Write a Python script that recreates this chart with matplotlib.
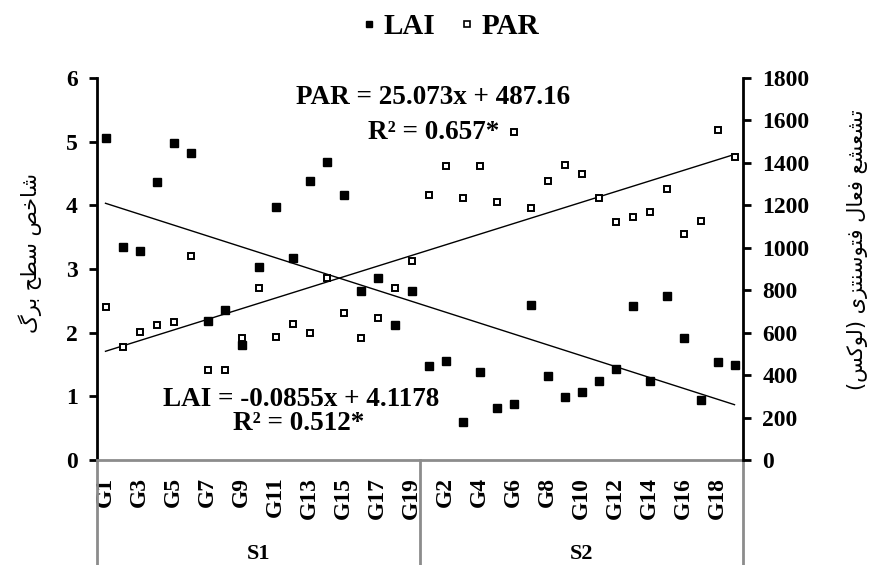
import matplotlib
matplotlib.use("Agg")
import matplotlib.pyplot as plt
import matplotlib.transforms as mtransforms
from matplotlib.lines import Line2D

# داده ها
groups = ["S1", "S2"]
genotypes = ["G%d" % i for i in range(1, 20)]
lai_s1 = [5.06, 3.35, 3.29, 4.36, 4.98, 4.82, 2.18, 2.36, 1.80, 3.03,
          3.97, 3.18, 4.38, 4.68, 4.16, 2.66, 2.86, 2.12, 2.66]
lai_s2 = [1.48, 1.55, 0.59, 1.38, 0.81, 0.88, 2.44, 1.32, 0.99, 1.07,
          1.24, 1.43, 2.42, 1.24, 2.57, 1.92, 0.95, 1.54, 1.50]
par_s1 = [721, 534, 605, 636, 649, 963, 424, 424, 576, 812,
          581, 642, 600, 859, 691, 576, 668, 812, 939]
par_s2 = [1247, 1385, 1235, 1385, 1216, 1544, 1187, 1313, 1392, 1349,
          1235, 1120, 1145, 1167, 1277, 1065, 1126, 1555, 1428]
lai_coef = [-0.0855, 4.1178]
par_coef = [25.073, 487.16]
lai_title = "شاخص سطح برگ"
par_title = "تشعشع فعال فتوسنتزی (لوکس)"

# شکل دادن حروف فارسی (matplotlib خودش حروف را به هم نمی چسباند)
forms = {
    "ا": ("\uFE8D", "\uFE8E", None, None),
    "ب": ("\uFE8F", "\uFE90", "\uFE91", "\uFE92"),
    "ت": ("\uFE95", "\uFE96", "\uFE97", "\uFE98"),
    "ح": ("\uFEA1", "\uFEA2", "\uFEA3", "\uFEA4"),
    "خ": ("\uFEA5", "\uFEA6", "\uFEA7", "\uFEA8"),
    "ر": ("\uFEAD", "\uFEAE", None, None),
    "ز": ("\uFEAF", "\uFEB0", None, None),
    "س": ("\uFEB1", "\uFEB2", "\uFEB3", "\uFEB4"),
    "ش": ("\uFEB5", "\uFEB6", "\uFEB7", "\uFEB8"),
    "ص": ("\uFEB9", "\uFEBA", "\uFEBB", "\uFEBC"),
    "ط": ("\uFEC1", "\uFEC2", "\uFEC3", "\uFEC4"),
    "ع": ("\uFEC9", "\uFECA", "\uFECB", "\uFECC"),
    "ف": ("\uFED1", "\uFED2", "\uFED3", "\uFED4"),
    "ل": ("\uFEDD", "\uFEDE", "\uFEDF", "\uFEE0"),
    "ن": ("\uFEE5", "\uFEE6", "\uFEE7", "\uFEE8"),
    "و": ("\uFEED", "\uFEEE", None, None),
    "ی": ("\uFBFC", "\uFBFD", "\uFBFE", "\uFBFF"),
    "ک": ("\uFB8E", "\uFB8F", "\uFB90", "\uFB91"),
    "گ": ("\uFB92", "\uFB93", "\uFB94", "\uFB95"),
}


def farsi(texto):
    salida = []
    for i, c in enumerate(texto):
        if c not in forms:
            salida.append(c)
            continue
        prev = texto[i - 1] if i > 0 else ""
        nxt = texto[i + 1] if i + 1 < len(texto) else ""
        join_prev = prev in forms and forms[prev][2] is not None
        join_next = forms[c][2] is not None and nxt in forms
        f = forms[c]
        if join_prev and join_next:
            salida.append(f[3])
        elif join_prev:
            salida.append(f[1])
        elif join_next:
            salida.append(f[2])
        else:
            salida.append(f[0])
    visual = "".join(reversed(salida))
    return visual.translate(str.maketrans("()", ")("))


labels = genotypes + genotypes
lai = lai_s1 + lai_s2
par = par_s1 + par_s2
n = len(labels)
pos = list(range(n))
xfit = [p + 1 for p in pos]

serif = "Liberation Serif"
gris = "#8c8c8c"

fig = plt.figure(figsize=(8.74, 5.65), dpi=100)
ax = fig.add_axes([97 / 874, 1 - 460 / 565, 646 / 874, 382 / 565])
ax2 = ax.twinx()

ax.plot(pos, lai, "s", color="black", markersize=6, linestyle="none", zorder=3)
ax2.plot(pos, par, "s", markerfacecolor="white", markeredgecolor="black",
         markeredgewidth=1.4, markersize=5, linestyle="none", zorder=3)
ax.plot([pos[0], pos[-1]],
        [lai_coef[0] * xfit[0] + lai_coef[1], lai_coef[0] * xfit[-1] + lai_coef[1]],
        color="black", linewidth=1)
ax2.plot([pos[0], pos[-1]],
         [par_coef[0] * xfit[0] + par_coef[1], par_coef[0] * xfit[-1] + par_coef[1]],
         color="black", linewidth=1)

ax.set_xlim(-0.5, n - 0.5)
ax.set_ylim(0, 6)
ax2.set_ylim(0, 1800)
ax.set_yticks(range(0, 7))
ax2.set_yticks(range(0, 1801, 200))

for a in (ax, ax2):
    a.spines["top"].set_visible(False)
ax.spines["right"].set_visible(False)
ax2.spines["left"].set_visible(False)
ax2.spines["bottom"].set_visible(False)
ax.spines["left"].set_linewidth(2)
ax2.spines["right"].set_linewidth(2)
ax.spines["bottom"].set_color(gris)
ax.spines["bottom"].set_linewidth(2)

ax.tick_params(axis="y", direction="out", length=6, width=2, pad=8)
ax2.tick_params(axis="y", direction="out", length=6, width=2, pad=8)
for t in ax.get_yticklabels() + ax2.get_yticklabels():
    t.set_fontfamily(serif)
    t.set_fontweight("bold")
    t.set_fontsize(17)

ax.set_xticks(pos[::2])
ax.set_xticklabels(labels[::2], rotation=90, fontfamily=serif,
                   fontweight="bold", fontsize=17)
ax.tick_params(axis="x", length=0, pad=12)

# خطوط خاکستری و گروه ها
trans = mtransforms.blended_transform_factory(ax.transData, ax.transAxes)
trans_fig = mtransforms.blended_transform_factory(ax.transData, fig.transFigure)
for xv in [-0.5, len(genotypes) - 0.5, n - 0.5]:
    ax.plot([xv, xv], [0, -0.32], color=gris, linewidth=2,
            transform=trans, clip_on=False)
for i, g in enumerate(groups):
    centro = i * len(genotypes) + (len(genotypes) - 1) / 2
    fig.text(centro, 1 / 565, g, transform=trans_fig, ha="center", va="bottom",
             fontfamily=serif, fontweight="bold", fontsize=16)

# ecuaciones
fig.text(433 / 874, 1 - 98 / 565, "PAR = 25.073x + 487.16", ha="center",
         va="center", fontfamily=serif, fontweight="bold", fontsize=19.5)
fig.text(434 / 874, 1 - 132 / 565, "R² = 0.657*", ha="center",
         va="center", fontfamily=serif, fontweight="bold", fontsize=19.5)
fig.text(301 / 874, 1 - 400 / 565, "LAI = -0.0855x + 4.1178", ha="center",
         va="center", fontfamily=serif, fontweight="bold", fontsize=19.5)
fig.text(299 / 874, 1 - 424 / 565, "R² = 0.512*", ha="center",
         va="center", fontfamily=serif, fontweight="bold", fontsize=19.5)

# titulos de ejes
fig.text(30 / 874, 1 - 253 / 565, farsi(lai_title), rotation=90,
         ha="center", va="center", fontfamily="DejaVu Sans", fontsize=15)
fig.text(858 / 874, 1 - 250 / 565, farsi(par_title), rotation=90,
         ha="center", va="center", fontfamily="DejaVu Sans", fontsize=15)

handles = [
    Line2D([], [], marker="s", color="black", linestyle="none", markersize=5),
    Line2D([], [], marker="s", markerfacecolor="white", markeredgecolor="black",
           markeredgewidth=1.2, linestyle="none", markersize=5),
]
fig.legend(handles, ["LAI", "PAR"], loc="center", ncol=2,
           bbox_to_anchor=(447 / 874, 1 - 27 / 565), frameon=False,
           handletextpad=0.0, columnspacing=0.6, handlelength=1,
           prop={"family": serif, "weight": "bold", "size": 21})

fig.savefig("out.png", dpi=100)
